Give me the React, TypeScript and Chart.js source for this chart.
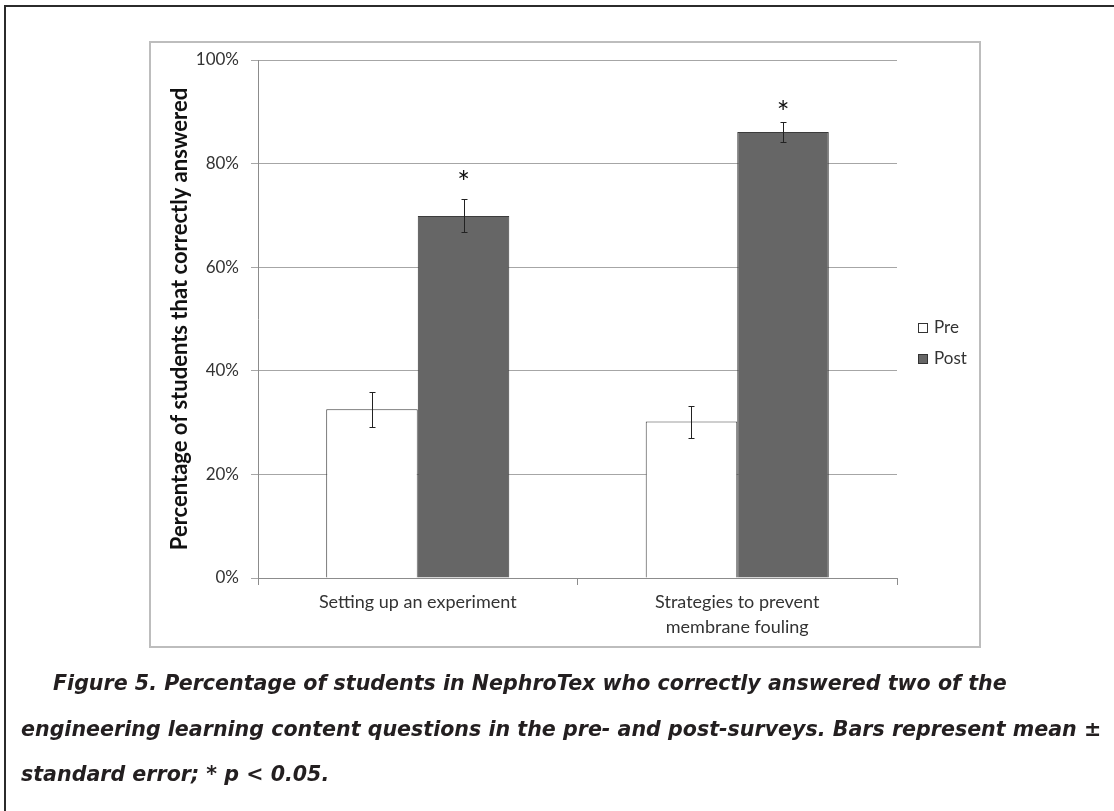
import React, { useEffect, useRef } from "react";
import { Chart, registerables } from "chart.js";

Chart.register(...registerables);

const categories: string[][] = [["Setting up an experiment"], ["Strategies to prevent", "membrane fouling"]];
const seriesNames: string[] = ["Pre", "Post"];
const preValues: number[] = [32.6, 30.2];
const postValues: number[] = [69.9, 86.1];
const preErrors: number[] = [3.4, 3.1];
const postErrors: number[] = [3.2, 1.9];
const significanceMarks: string[] = ["*", "*"];
const significanceLevels: number[] = [77.8, 91.3];
const yTickValues: number[] = [0, 20, 40, 60, 80, 100];
const captionLines: string[] = [
  "Figure 5. Percentage of students in NephroTex who correctly answered two of the",
  "engineering learning content questions in the pre- and post-surveys. Bars represent mean \u00b1",
  "standard error; * p < 0.05.",
];

const FONT = "Lato, 'Open Sans', sans-serif";
const preColor = "#ffffff";
const postColor = "#666666";

const errorBarPlugin = {
  id: "errorBars",
  afterDatasetsDraw(chart: any) {
    const ctx = chart.ctx;
    const y = chart.scales.y;
    const errs = [preErrors, postErrors];
    const vals = [preValues, postValues];
    ctx.save();
    ctx.strokeStyle = "#222222";
    ctx.lineWidth = 1;
    for (let d = 0; d < 2; d++) {
      const meta = chart.getDatasetMeta(d);
      meta.data.forEach((bar: any, i: number) => {
        const x = Math.round(bar.x) + 0.5;
        const top = Math.round(y.getPixelForValue(vals[d][i] + errs[d][i])) + 0.5;
        const bot = Math.round(y.getPixelForValue(vals[d][i] - errs[d][i])) + 0.5;
        ctx.beginPath();
        ctx.moveTo(x, top);
        ctx.lineTo(x, bot);
        ctx.moveTo(x - 3, top);
        ctx.lineTo(x + 3, top);
        ctx.moveTo(x - 3, bot);
        ctx.lineTo(x + 3, bot);
        ctx.stroke();
      });
    }
    const meta = chart.getDatasetMeta(1);
    ctx.fillStyle = "#111111";
    ctx.font = `30px ${FONT}`;
    ctx.textAlign = "center";
    ctx.textBaseline = "alphabetic";
    meta.data.forEach((bar: any, i: number) => {
      const m = ctx.measureText(significanceMarks[i]);
      const yc = y.getPixelForValue(significanceLevels[i]);
      const yb = yc + (m.actualBoundingBoxAscent - m.actualBoundingBoxDescent) / 2;
      ctx.fillText(significanceMarks[i], bar.x, yb);
    });
    ctx.restore();
  },
};

const legendPlugin = {
  id: "customLegend",
  afterDraw(chart: any) {
    const ctx = chart.ctx;
    const area = chart.chartArea;
    const x0 = area.right + 21;
    const rows = [328, 359];
    ctx.save();
    ctx.font = `17px ${FONT}`;
    ctx.textBaseline = "middle";
    ctx.textAlign = "left";
    chart.data.datasets.forEach((ds: any, i: number) => {
      const yc = rows[i];
      ctx.fillStyle = ds.backgroundColor;
      ctx.fillRect(x0, yc - 5, 10, 10);
      ctx.strokeStyle = "#333333";
      ctx.lineWidth = 1;
      ctx.strokeRect(x0 + 0.5, yc - 4.5, 9, 9);
      ctx.fillStyle = "#333333";
      ctx.fillText(ds.label, x0 + 16, yc);
    });
    ctx.restore();
  },
};

function BarChart() {
  const ref = useRef<HTMLCanvasElement | null>(null);
  useEffect(() => {
    if (!ref.current) return;
    const chart = new Chart(ref.current, {
      type: "bar",
      data: {
        labels: categories,
        datasets: [
          {
            label: seriesNames[0],
            data: preValues,
            backgroundColor: preColor,
            borderColor: "#3c3c3c",
            borderWidth: 1,
            categoryPercentage: 0.573,
            barPercentage: 1,
          },
          {
            label: seriesNames[1],
            data: postValues,
            backgroundColor: postColor,
            borderColor: "#3c3c3c",
            borderWidth: 1,
            categoryPercentage: 0.573,
            barPercentage: 1,
          },
        ],
      },
      options: {
        animation: false,
        responsive: false,
        events: [],
        layout: { padding: { left: 158, right: 217, top: 60, bottom: 163 } },
        plugins: {
          legend: { display: false },
          tooltip: { enabled: false },
          title: { display: false },
        },
        scales: {
          x: {
            offset: true,
            grid: {
              offset: true,
              drawOnChartArea: false,
              drawTicks: true,
              tickLength: 7,
              color: "#8c8c8c",
            },
            border: { color: "#8c8c8c", width: 1 },
            ticks: {
              color: "#333333",
              padding: 5,
              font: { family: FONT, size: 18, lineHeight: 1.389 },
              maxRotation: 0,
              autoSkip: false,
            },
            afterFit: (s: any) => {
              s.height = 70;
            },
          },
          y: {
            min: 0,
            max: 100,
            afterBuildTicks: (s: any) => {
              s.ticks = yTickValues.map((v) => ({ value: v }));
            },
            grid: {
              color: "#a6a6a6",
              tickLength: 7,
              drawTicks: true,
            },
            border: { color: "#8c8c8c", width: 1 },
            ticks: {
              color: "#333333",
              padding: 12,
              font: { family: FONT, size: 17 },
              callback: (v: any) => `${v}%`,
            },
            title: {
              display: true,
              text: "Percentage of students that correctly answered",
              color: "#111111",
              font: { family: FONT, size: 22, weight: "bold" },
              padding: { top: 9, bottom: 0 },
            },
            afterFit: (s: any) => {
              s.width = 100;
            },
          },
        },
      },
      plugins: [errorBarPlugin, legendPlugin],
    });
    return () => chart.destroy();
  }, []);
  return (
    <canvas
      ref={ref}
      width={1114}
      height={811}
      style={{ position: "absolute", left: 0, top: 0, width: 1114, height: 811 }}
    />
  );
}

export default function App() {
  return (
    <div
      style={{
        position: "absolute",
        left: 0,
        top: 0,
        width: 1114,
        height: 811,
        overflow: "hidden",
        background: "#ffffff",
      }}
    >
      <div
        style={{
          position: "absolute",
          left: 4,
          top: 5,
          width: 1120,
          height: 820,
          borderTop: "2px solid #2b2b2b",
          borderLeft: "2px solid #2b2b2b",
        }}
      />
      <div
        style={{
          position: "absolute",
          left: 149,
          top: 41,
          width: 828,
          height: 603,
          border: "2px solid #bdbdbd",
        }}
      />
      <BarChart />
      <div
        style={{
          position: "absolute",
          left: 21,
          top: 661,
          width: 1090,
          fontFamily: "'DejaVu Sans', sans-serif",
          fontWeight: 700,
          fontStyle: "italic",
          fontSize: 20.6,
          lineHeight: "45.5px",
          color: "#231f20",
          whiteSpace: "nowrap",
        }}
      >
        {captionLines.map((t, i) => (
          <div key={i} style={{ paddingLeft: i === 0 ? 32 : 0 }}>
            {t}
          </div>
        ))}
      </div>
    </div>
  );
}
